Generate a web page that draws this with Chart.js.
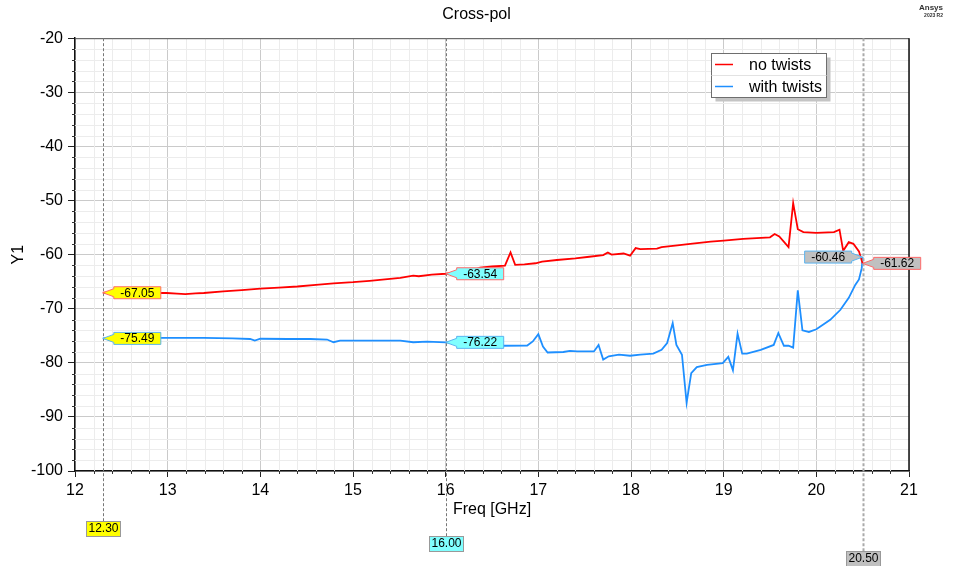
<!DOCTYPE html>
<html>
<head>
<meta charset="utf-8">
<title>Cross-pol</title>
<script src="https://cdn.jsdelivr.net/npm/chart.js@4"></script>
<style>
  html, body { margin: 0; padding: 0; background: #ffffff; }
  canvas { display: block; }
</style>
</head>
<body>
<canvas id="chart" width="953" height="566"></canvas>
<script>
// Cross-polarisation level vs. frequency for the two cable variants
const noTwistsFreq = [12.30, 12.50, 12.80, 12.99, 13.10, 13.19, 13.30, 13.39, 13.60, 13.80,
  14.00, 14.20, 14.40, 14.60, 14.79, 15.00, 15.18, 15.40, 15.51, 15.65,
  15.71, 15.85, 16.00, 16.20, 16.30, 16.37, 16.50, 16.64, 16.70, 16.75,
  16.85, 16.97, 17.04, 17.20, 17.40, 17.55, 17.70, 17.75, 17.79, 17.92,
  17.99, 18.05, 18.10, 18.28, 18.33, 18.50, 18.64, 18.86, 19.00, 19.21,
  19.50, 19.55, 19.60, 19.70, 19.75, 19.80, 19.86, 20.00, 20.19, 20.25,
  20.29, 20.35, 20.40, 20.46, 20.50];
const noTwistsDb = [-67.05, -67.10, -67.10, -67.10, -67.20, -67.30, -67.15, -67.10, -66.80, -66.55,
  -66.30, -66.10, -65.90, -65.60, -65.30, -65.10, -64.85, -64.50, -64.30, -63.90,
  -64.00, -63.70, -63.54, -63.20, -62.90, -62.40, -62.20, -62.05, -59.60, -61.90,
  -61.80, -61.60, -61.30, -61.00, -60.70, -60.40, -60.10, -59.60, -60.00, -59.80,
  -60.20, -58.80, -59.00, -58.90, -58.60, -58.30, -58.00, -57.60, -57.40, -57.10,
  -56.80, -56.20, -56.65, -58.60, -50.50, -55.30, -55.85, -56.00, -55.85, -55.40,
  -59.30, -57.70, -58.00, -59.40, -61.62];

const withTwistsFreq = [12.30, 12.60, 13.00, 13.39, 13.70, 13.89, 13.94, 14.00, 14.30, 14.54,
  14.72, 14.79, 14.86, 15.20, 15.51, 15.65, 15.80, 16.00, 16.30, 16.62,
  16.88, 16.94, 17.00, 17.05, 17.10, 17.27, 17.34, 17.42, 17.60, 17.65,
  17.70, 17.76, 17.87, 17.99, 18.10, 18.24, 18.33, 18.39, 18.45, 18.49,
  18.55, 18.60, 18.65, 18.71, 18.82, 18.99, 19.05, 19.10, 19.15, 19.20,
  19.25, 19.40, 19.54, 19.59, 19.65, 19.70, 19.75, 19.80, 19.85, 19.92,
  20.00, 20.15, 20.26, 20.35, 20.42, 20.46, 20.49, 20.50];
const withTwistsDb = [-75.49, -75.45, -75.40, -75.40, -75.50, -75.60, -75.90, -75.55, -75.60, -75.60,
  -75.70, -76.20, -75.90, -75.90, -75.90, -76.20, -76.10, -76.22, -76.50, -76.85,
  -76.80, -76.05, -74.70, -77.00, -78.10, -78.00, -77.80, -77.90, -77.90, -76.70,
  -79.40, -78.80, -78.50, -78.70, -78.50, -78.30, -77.60, -76.35, -72.65, -76.70,
  -78.50, -87.40, -81.90, -80.80, -80.40, -80.05, -78.90, -81.40, -74.60, -78.30,
  -78.30, -77.60, -76.70, -74.50, -76.85, -76.85, -77.20, -66.60, -74.00, -74.30,
  -73.80, -72.05, -70.20, -68.00, -65.60, -64.60, -62.50, -60.46];

// Markers placed on the frequency axis and the values read at them
const markerFreqs = [12.30, 16.00, 20.50];
const markerTags = ['12.30', '16.00', '20.50'];
const noTwistsAtMarker = [-67.05, -63.54, -61.62];
const withTwistsAtMarker = [-75.49, -76.22, -60.46];

const seriesNames = ['no twists', 'with twists'];
const seriesColors = ['#ff0000', '#1e8fff'];
const calloutBorders = ['#ff6a6a', '#5ab4f0'];
const markerFills = ['#ffff00', '#80ffff', '#c0c0c0'];

const FONT = "Arial, 'Liberation Sans', sans-serif";

function toPoints(xs, ys) {
  return xs.map((x, i) => ({ x: x, y: ys[i] }));
}

function callout(ctx, tipX, tipY, text, side, fill, stroke) {
  ctx.save();
  ctx.font = '12px ' + FONT;
  const w = ctx.measureText(text).width + 13;
  const h = 12, gap = 11, half = 4;
  const L = side === 'right' ? tipX + gap : tipX - gap - w;
  const R = L + w;
  const top = tipY - h / 2, bot = tipY + h / 2;
  ctx.beginPath();
  if (side === 'right') {
    ctx.moveTo(tipX, tipY);
    ctx.lineTo(L, tipY - half);
    ctx.lineTo(L, top);
    ctx.lineTo(R, top);
    ctx.lineTo(R, bot);
    ctx.lineTo(L, bot);
    ctx.lineTo(L, tipY + half);
  } else {
    ctx.moveTo(tipX, tipY);
    ctx.lineTo(R, tipY + half);
    ctx.lineTo(R, bot);
    ctx.lineTo(L, bot);
    ctx.lineTo(L, top);
    ctx.lineTo(R, top);
    ctx.lineTo(R, tipY - half);
  }
  ctx.closePath();
  ctx.fillStyle = fill;
  ctx.fill();
  ctx.lineWidth = 1;
  ctx.strokeStyle = stroke;
  ctx.stroke();
  ctx.fillStyle = '#000';
  ctx.textBaseline = 'middle';
  ctx.textAlign = 'center';
  ctx.fillText(text, (L + R) / 2, tipY + 0.5);
  ctx.restore();
}

// Light minor grid and short minor ticks (0.2 GHz / 2 dB)
const minorGrid = {
  id: 'minorGrid',
  beforeDatasetsDraw(chart) {
    const { ctx, chartArea: a, scales: { x, y } } = chart;
    ctx.save();
    ctx.lineWidth = 1;
    for (let i = 0; i <= 45; i++) {
      if (i % 5 === 0) continue;
      const px = Math.round(x.getPixelForValue(12 + i * 0.2)) + 0.5;
      ctx.strokeStyle = '#ececec';
      ctx.beginPath(); ctx.moveTo(px, a.top); ctx.lineTo(px, a.bottom); ctx.stroke();
      ctx.strokeStyle = '#333';
      ctx.beginPath(); ctx.moveTo(px, a.bottom); ctx.lineTo(px, a.bottom + 3); ctx.stroke();
    }
    for (let i = 0; i <= 40; i++) {
      if (i % 5 === 0) continue;
      const py = Math.round(y.getPixelForValue(-100 + i * 2)) + 0.5;
      ctx.strokeStyle = '#ececec';
      ctx.beginPath(); ctx.moveTo(a.left, py); ctx.lineTo(a.right, py); ctx.stroke();
      ctx.strokeStyle = '#333';
      ctx.beginPath(); ctx.moveTo(a.left - 3, py); ctx.lineTo(a.left, py); ctx.stroke();
    }
    ctx.restore();
  }
};

// Frame, markers, callouts, legend and product tag
const overlay = {
  id: 'overlay',
  afterDraw(chart) {
    const { ctx, chartArea: a, scales: { x, y } } = chart;
    ctx.save();

    // top and right frame
    ctx.strokeStyle = '#555';
    ctx.lineWidth = 1;
    ctx.beginPath();
    ctx.moveTo(a.left, a.top + 0.5); ctx.lineTo(a.right, a.top + 0.5);
    ctx.stroke();
    ctx.strokeStyle = '#111';
    ctx.lineWidth = 1.5;
    ctx.beginPath();
    ctx.moveTo(a.right, a.top); ctx.lineTo(a.right, a.bottom);
    ctx.stroke();

    // vertical marker lines with frequency tags below the axis
    const tagTops = [521, 536, 551];
    markerFreqs.forEach((f, i) => {
      const px = Math.round(x.getPixelForValue(f)) + 0.5;
      ctx.save();
      if (i === 2) { ctx.strokeStyle = '#aaaaaa'; ctx.lineWidth = 2; ctx.setLineDash([3, 2]); }
      else { ctx.strokeStyle = '#777777'; ctx.lineWidth = 1; ctx.setLineDash([3, 2]); }
      ctx.beginPath(); ctx.moveTo(px, a.top); ctx.lineTo(px, tagTops[i]); ctx.stroke();
      ctx.restore();

      ctx.font = '12px ' + FONT;
      const tw = ctx.measureText(markerTags[i]).width + 4;
      const th = 15;
      const bx = px - tw / 2;
      ctx.fillStyle = markerFills[i];
      ctx.fillRect(bx, tagTops[i], tw, th);
      ctx.strokeStyle = '#999999';
      ctx.lineWidth = 1;
      ctx.strokeRect(Math.round(bx) + 0.5, tagTops[i] + 0.5, Math.round(tw), th);
      ctx.fillStyle = '#000';
      ctx.textAlign = 'center';
      ctx.textBaseline = 'middle';
      ctx.fillText(markerTags[i], px, tagTops[i] + th / 2 + 0.5);
    });

    // value callouts at each marker
    markerFreqs.forEach((f, i) => {
      const px = x.getPixelForValue(f);
      const ry = y.getPixelForValue(noTwistsAtMarker[i]);
      const by = y.getPixelForValue(withTwistsAtMarker[i]);
      const last = i === markerFreqs.length - 1;
      callout(ctx, px, ry, noTwistsAtMarker[i].toFixed(2), 'right', markerFills[i], calloutBorders[0]);
      callout(ctx, px, by, withTwistsAtMarker[i].toFixed(2), last ? 'left' : 'right', markerFills[i], calloutBorders[1]);
    });

    // legend box
    const lx = 711.5, ly = 53.5, lw = 115, lh = 44;
    ctx.fillStyle = '#c4c4c4';
    ctx.fillRect(lx + 4, ly + 4, lw, lh);
    ctx.fillStyle = '#ffffff';
    ctx.fillRect(lx, ly, lw, lh);
    ctx.strokeStyle = '#6e6e6e';
    ctx.lineWidth = 1;
    ctx.strokeRect(lx, ly, lw, lh);
    ctx.strokeStyle = '#e2e2e2';
    ctx.beginPath(); ctx.moveTo(lx, 75.5); ctx.lineTo(lx + lw, 75.5); ctx.stroke();
    const rows = [64.5, 86.5];
    seriesNames.forEach((name, i) => {
      ctx.strokeStyle = seriesColors[i];
      ctx.lineWidth = 1.5;
      ctx.beginPath(); ctx.moveTo(715, rows[i]); ctx.lineTo(733, rows[i]); ctx.stroke();
      ctx.fillStyle = '#000';
      ctx.font = '16px ' + FONT;
      ctx.textAlign = 'left';
      ctx.textBaseline = 'middle';
      ctx.fillText(name, 749, rows[i] + 1);
    });

    // product tag
    ctx.fillStyle = '#333';
    ctx.textAlign = 'right';
    ctx.textBaseline = 'alphabetic';
    ctx.font = 'bold 8px ' + FONT;
    ctx.fillText('Ansys', 943, 10);
    ctx.font = 'bold 5px ' + FONT;
    ctx.fillText('2023 R2', 943, 17);

    ctx.restore();
  }
};

new Chart(document.getElementById('chart'), {
  type: 'scatter',
  data: {
    datasets: [
      {
        label: seriesNames[0],
        data: toPoints(noTwistsFreq, noTwistsDb),
        showLine: true,
        borderColor: seriesColors[0],
        backgroundColor: seriesColors[0],
        borderWidth: 1.8,
        pointRadius: 0,
        tension: 0
      },
      {
        label: seriesNames[1],
        data: toPoints(withTwistsFreq, withTwistsDb),
        showLine: true,
        borderColor: seriesColors[1],
        backgroundColor: seriesColors[1],
        borderWidth: 1.8,
        pointRadius: 0,
        tension: 0
      }
    ]
  },
  options: {
    responsive: false,
    animation: false,
    devicePixelRatio: 1,
    layout: { padding: 0 },
    plugins: {
      legend: { display: false },
      tooltip: { enabled: false },
      title: {
        display: true,
        text: 'Cross-pol',
        color: '#000',
        font: { family: FONT, size: 16, weight: 'normal' },
        padding: { top: 5, bottom: 14 }
      }
    },
    scales: {
      x: {
        type: 'linear',
        min: 12,
        max: 21,
        ticks: {
          stepSize: 1,
          color: '#000',
          font: { family: FONT, size: 16 },
          padding: 4,
          maxRotation: 0,
          autoSkip: false
        },
        grid: { color: '#cacaca', lineWidth: 1, tickLength: 6, tickColor: '#222' },
        border: { color: '#111', width: 1.5 },
        title: {
          display: true,
          text: 'Freq [GHz]',
          color: '#000',
          font: { family: FONT, size: 16 },
          padding: { top: 0, bottom: 47 }
        },
        afterFit(scale) { scale.height = 95; }
      },
      y: {
        type: 'linear',
        min: -100,
        max: -20,
        ticks: {
          stepSize: 10,
          color: '#000',
          font: { family: FONT, size: 16 },
          padding: 5
        },
        grid: { color: '#cacaca', lineWidth: 1, tickLength: 7, tickColor: '#222' },
        border: { color: '#111', width: 1.5 },
        title: {
          display: true,
          text: 'Y1',
          color: '#000',
          font: { family: FONT, size: 16 },
          padding: { top: 9, bottom: 0 }
        },
        afterFit(scale) { scale.width = 75; }
      },
      // empty right-hand strip that keeps the plot clear of the page edge
      yRight: {
        type: 'linear',
        position: 'right',
        min: 0,
        max: 1,
        ticks: { display: false },
        grid: { display: false, drawTicks: false },
        border: { display: false },
        afterFit(scale) { scale.width = 44; }
      }
    }
  },
  plugins: [minorGrid, overlay]
});
</script>
</body>
</html>
